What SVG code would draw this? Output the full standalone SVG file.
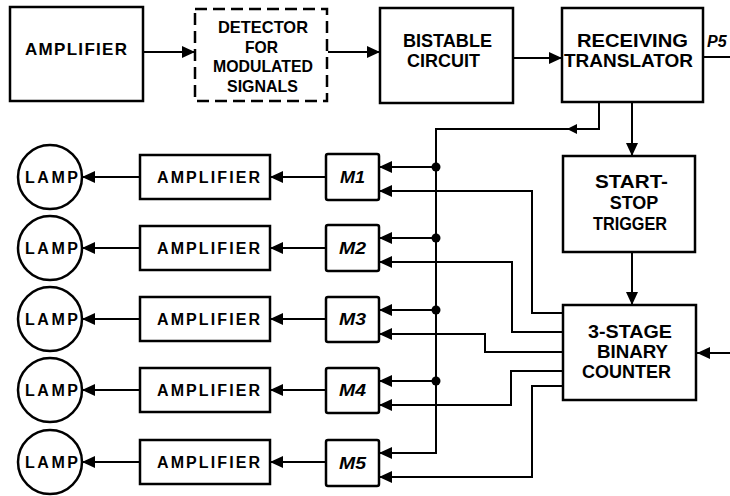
<svg xmlns="http://www.w3.org/2000/svg" width="730" height="496" viewBox="0 0 730 496">
<defs>
<marker id="arr" markerUnits="userSpaceOnUse" markerWidth="14" markerHeight="12" refX="13" refY="6" orient="auto">
<path d="M0,0 L13,6 L0,12 z" fill="#000"/>
</marker>
<style>
.box{fill:#fff;stroke:#000;stroke-width:2.5}
.dash{fill:#fff;stroke:#000;stroke-width:2.5;stroke-dasharray:12 6}
.ln{fill:none;stroke:#000;stroke-width:2}
.t{font-family:"Liberation Sans",Arial,sans-serif;font-weight:bold;fill:#000}
.t19{font-size:19px}
.t18{font-size:18px}
.t17{font-size:17px}
.t16{font-size:16px}
.it{font-style:italic}
</style>
</defs>
<rect width="730" height="496" fill="#fff"/>

<g id="connectors">
<line class="ln" x1="143" y1="52" x2="195" y2="52" marker-end="url(#arr)"/>
<line class="ln" x1="328" y1="52" x2="380" y2="52" marker-end="url(#arr)"/>
<line class="ln" x1="513" y1="58" x2="562" y2="58" marker-end="url(#arr)"/>
<line class="ln" x1="703" y1="57" x2="730" y2="57"/>
<line class="ln" x1="632" y1="102" x2="632" y2="156" marker-end="url(#arr)"/>
<line class="ln" x1="632" y1="252" x2="632" y2="305" marker-end="url(#arr)"/>
<line class="ln" x1="730" y1="353" x2="697" y2="353" marker-end="url(#arr)"/>
<polyline class="ln" points="599,102 599,129 436,129 436,453 379,453" marker-end="url(#arr)"/>
<path d="M567,129 L577,124 L577,134 z" fill="#000"/>
<line class="ln" x1="436" y1="167" x2="379" y2="167" marker-end="url(#arr)"/>
<line class="ln" x1="436" y1="238" x2="379" y2="238" marker-end="url(#arr)"/>
<line class="ln" x1="436" y1="310" x2="379" y2="310" marker-end="url(#arr)"/>
<line class="ln" x1="436" y1="381" x2="379" y2="381" marker-end="url(#arr)"/>
<circle cx="436" cy="167" r="4.5" fill="#000"/>
<circle cx="436" cy="238" r="4.5" fill="#000"/>
<circle cx="436" cy="310" r="4.5" fill="#000"/>
<circle cx="436" cy="381" r="4.5" fill="#000"/>
<polyline class="ln" points="563,313 532,313 532,191 379,191" marker-end="url(#arr)"/>
<polyline class="ln" points="563,332 512,332 512,262 379,262" marker-end="url(#arr)"/>
<polyline class="ln" points="563,352 485,352 485,334 379,334" marker-end="url(#arr)"/>
<polyline class="ln" points="563,371 511,371 511,405 379,405" marker-end="url(#arr)"/>
<polyline class="ln" points="563,386 532,386 532,477 379,477" marker-end="url(#arr)"/>
<line class="ln" x1="326" y1="177" x2="270" y2="177" marker-end="url(#arr)"/>
<line class="ln" x1="326" y1="248" x2="270" y2="248" marker-end="url(#arr)"/>
<line class="ln" x1="326" y1="319" x2="270" y2="319" marker-end="url(#arr)"/>
<line class="ln" x1="326" y1="390" x2="270" y2="390" marker-end="url(#arr)"/>
<line class="ln" x1="326" y1="462" x2="270" y2="462" marker-end="url(#arr)"/>
<line class="ln" x1="140" y1="177" x2="82" y2="177" marker-end="url(#arr)"/>
<line class="ln" x1="140" y1="248" x2="82" y2="248" marker-end="url(#arr)"/>
<line class="ln" x1="140" y1="319" x2="82" y2="319" marker-end="url(#arr)"/>
<line class="ln" x1="140" y1="390" x2="82" y2="390" marker-end="url(#arr)"/>
<line class="ln" x1="140" y1="462" x2="82" y2="462" marker-end="url(#arr)"/>
</g>

<g id="amplifier-top">
<rect class="box" x="10" y="7" width="133" height="94"/>
<text class="t t17" x="25" y="55" textLength="102" lengthAdjust="spacing">AMPLIFIER</text>
</g>
<g id="detector">
<rect class="dash" x="195" y="9" width="132" height="92"/>
<text class="t t17" x="218" y="33" textLength="90" lengthAdjust="spacingAndGlyphs">DETECTOR</text>
<text class="t t17" x="245" y="53" textLength="33" lengthAdjust="spacingAndGlyphs">FOR</text>
<text class="t t17" x="213" y="72" textLength="100" lengthAdjust="spacingAndGlyphs">MODULATED</text>
<text class="t t17" x="227" y="92" textLength="71" lengthAdjust="spacingAndGlyphs">SIGNALS</text>
</g>
<g id="bistable">
<rect class="box" x="380" y="8" width="133" height="95"/>
<text class="t t19" x="403" y="47" textLength="89" lengthAdjust="spacingAndGlyphs">BISTABLE</text>
<text class="t t19" x="407" y="67" textLength="73" lengthAdjust="spacingAndGlyphs">CIRCUIT</text>
</g>
<g id="translator">
<rect class="box" x="562" y="8" width="141" height="94"/>
<text class="t t19" x="577" y="47" textLength="111" lengthAdjust="spacingAndGlyphs">RECEIVING</text>
<text class="t t19" x="564" y="67" textLength="129" lengthAdjust="spacingAndGlyphs">TRANSLATOR</text>
</g>
<g id="p5">
<text class="t t16 it" x="707" y="47">P5</text>
</g>
<g id="trigger">
<rect class="box" x="563" y="156" width="132" height="96"/>
<text class="t t19" x="595" y="188" textLength="73" lengthAdjust="spacingAndGlyphs">START-</text>
<text class="t t18" x="634" y="209" text-anchor="middle">STOP</text>
<text class="t t19" x="593" y="230" textLength="74" lengthAdjust="spacingAndGlyphs">TRIGGER</text>
</g>
<g id="counter">
<rect class="box" x="563" y="305" width="133" height="95"/>
<text class="t t19" x="588" y="338" textLength="84" lengthAdjust="spacingAndGlyphs">3-STAGE</text>
<text class="t t19" x="597" y="358" textLength="71" lengthAdjust="spacingAndGlyphs">BINARY</text>
<text class="t t19" x="582" y="378" textLength="89" lengthAdjust="spacingAndGlyphs">COUNTER</text>
</g>

<g id="m1"><rect class="box" x="326" y="154" width="53" height="46" rx="2"/><text class="t t16 it" x="340" y="183" textLength="25" lengthAdjust="spacingAndGlyphs">M1</text></g>
<g id="m2"><rect class="box" x="326" y="225" width="53" height="46" rx="2"/><text class="t t16 it" x="339" y="254" textLength="27" lengthAdjust="spacingAndGlyphs">M2</text></g>
<g id="m3"><rect class="box" x="326" y="297" width="53" height="45" rx="2"/><text class="t t16 it" x="339" y="325" textLength="27" lengthAdjust="spacingAndGlyphs">M3</text></g>
<g id="m4"><rect class="box" x="326" y="368" width="53" height="45" rx="2"/><text class="t t16 it" x="339" y="396" textLength="27" lengthAdjust="spacingAndGlyphs">M4</text></g>
<g id="m5"><rect class="box" x="326" y="440" width="53" height="46" rx="2"/><text class="t t16 it" x="339" y="469" textLength="27" lengthAdjust="spacingAndGlyphs">M5</text></g>

<g id="amp1"><rect class="box" x="140" y="155" width="130" height="44"/><text class="t t16" x="157" y="183" textLength="103" lengthAdjust="spacing">AMPLIFIER</text></g>
<g id="amp2"><rect class="box" x="140" y="226" width="130" height="44"/><text class="t t16" x="157" y="254" textLength="103" lengthAdjust="spacing">AMPLIFIER</text></g>
<g id="amp3"><rect class="box" x="140" y="297" width="130" height="44"/><text class="t t16" x="157" y="325" textLength="103" lengthAdjust="spacing">AMPLIFIER</text></g>
<g id="amp4"><rect class="box" x="140" y="368" width="130" height="44"/><text class="t t16" x="157" y="396" textLength="103" lengthAdjust="spacing">AMPLIFIER</text></g>
<g id="amp5"><rect class="box" x="140" y="440" width="130" height="44"/><text class="t t16" x="157" y="468" textLength="103" lengthAdjust="spacing">AMPLIFIER</text></g>

<g id="lamp1"><circle class="box" cx="50" cy="177" r="32"/><text class="t t16" x="25" y="183" textLength="53" lengthAdjust="spacing">LAMP</text></g>
<g id="lamp2"><circle class="box" cx="50" cy="248" r="32"/><text class="t t16" x="25" y="254" textLength="53" lengthAdjust="spacing">LAMP</text></g>
<g id="lamp3"><circle class="box" cx="50" cy="319" r="32"/><text class="t t16" x="25" y="325" textLength="53" lengthAdjust="spacing">LAMP</text></g>
<g id="lamp4"><circle class="box" cx="50" cy="390" r="32"/><text class="t t16" x="25" y="396" textLength="53" lengthAdjust="spacing">LAMP</text></g>
<g id="lamp5"><circle class="box" cx="50" cy="462" r="32"/><text class="t t16" x="25" y="468" textLength="53" lengthAdjust="spacing">LAMP</text></g>
</svg>
